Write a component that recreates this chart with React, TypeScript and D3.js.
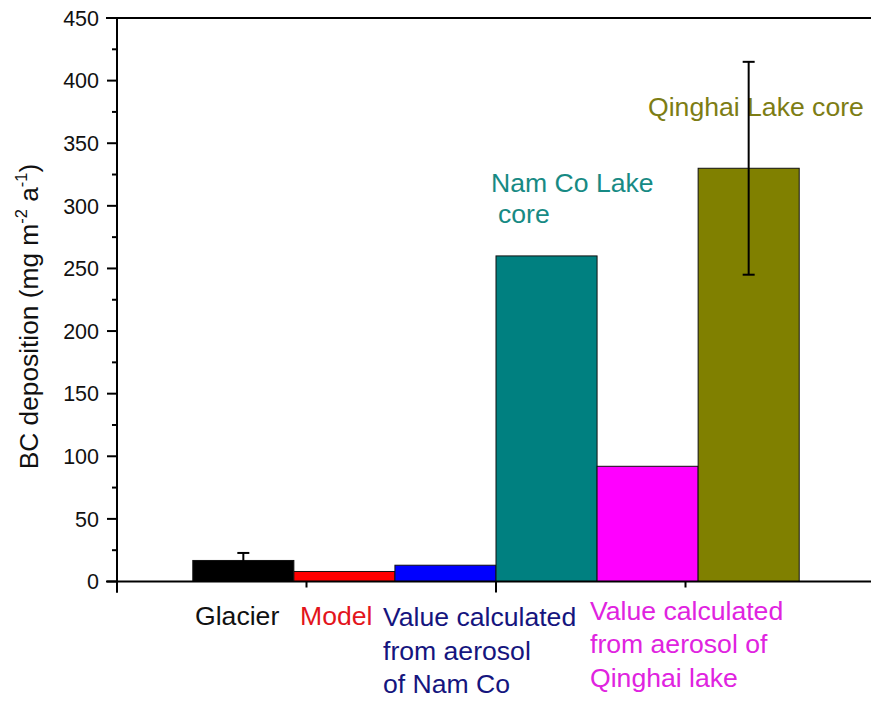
import React from 'react';
import * as d3 from 'd3';

const categories = ['Glacier', 'Model', 'Aerosol Nam Co', 'Nam Co Lake core', 'Aerosol Qinghai', 'Qinghai Lake core'];
const values = [16.8, 8, 13, 260, 92, 330];
const errors = [6, 0, 0, 0, 0, 85];
const barColors = ['#000000', '#ff0000', '#0000ff', '#008080', '#ff00ff', '#808000'];
const yMajorTicks = [0, 50, 100, 150, 200, 250, 300, 350, 400, 450];
const yMinorTicks = [25, 75, 125, 175, 225, 275, 325, 375, 425];
const xMajorTicks = [0, 1, 2];
const xMinorTicks = [0.5, 1.5];

const FONT = '"Liberation Sans", Arial, Helvetica, sans-serif';

export default function App() {
  const W = 871;
  const H = 702;
  const left = 117;
  const top = 18;
  const bottom = 581.5;
  const right = 875;

  const y = d3.scaleLinear().domain([0, 450]).range([bottom, top]);
  const xAxis = d3.scaleLinear().domain([0, 2]).range([left, right]);
  const xb = d3
    .scaleBand<string>()
    .domain(categories)
    .range([xAxis(0.2), xAxis(1.8)])
    .padding(0);

  const fs = 26.6;

  return (
    <svg
      width={W}
      height={H}
      style={{ position: 'absolute', left: 0, top: 0, background: '#fff' }}
      fontFamily={FONT}
    >
      <rect x={0} y={0} width={W} height={H} fill="#fff" />

      {/* bars */}
      {categories.map((c, i) => (
        <rect
          key={c}
          x={xb(c)!}
          y={y(values[i])}
          width={xb.bandwidth()}
          height={y(0) - y(values[i])}
          fill={barColors[i]}
          stroke="#111"
          strokeWidth={1}
        />
      ))}

      {/* annotations */}
      <text x={491} y={191.5} fontSize={fs} fill="#178a84">Nam Co Lake</text>
      <text x={498} y={223} fontSize={fs} fill="#178a84">core</text>
      <text x={648} y={116} fontSize={fs} fill="#7d7d14">Qinghai Lake core</text>

      {/* error bars */}
      {categories.map((c, i) => {
        if (!errors[i]) return null;
        const cx = xb(c)! + xb.bandwidth() / 2;
        const y1 = y(values[i] + errors[i]);
        const y2 = y(values[i] - errors[i]);
        return (
          <g key={'e' + c} stroke="#000" strokeWidth={2}>
            <line x1={cx} x2={cx} y1={y1} y2={y2} />
            <line x1={cx - 6} x2={cx + 6} y1={y1} y2={y1} />
            <line x1={cx - 6} x2={cx + 6} y1={y2} y2={y2} />
          </g>
        );
      })}

      {/* axes */}
      <g stroke="#000" strokeWidth={2}>
        <line x1={left} x2={left} y1={top - 1} y2={bottom + 11} />
        <line x1={left - 11} x2={W} y1={bottom} y2={bottom} />
        <line x1={left - 11} x2={W} y1={top} y2={top} />
        {yMajorTicks.map((t) => (
          <line key={'ym' + t} x1={left - 10} x2={left} y1={y(t)} y2={y(t)} />
        ))}
        {yMinorTicks.map((t) => (
          <line key={'yn' + t} x1={left - 5} x2={left} y1={y(t)} y2={y(t)} />
        ))}
        {xMajorTicks.map((t) => (
          <line key={'xm' + t} x1={xAxis(t)} x2={xAxis(t)} y1={bottom} y2={bottom + 11} />
        ))}
        {xMinorTicks.map((t) => (
          <line key={'xn' + t} x1={xAxis(t)} x2={xAxis(t)} y1={bottom} y2={bottom + 6} />
        ))}
      </g>

      {/* y tick labels */}
      {yMajorTicks.map((t) => (
        <text
          key={'yl' + t}
          x={99}
          y={y(t)}
          dy="0.36em"
          fontSize={21.5}
          textAnchor="end"
          fill="#111"
        >
          {t}
        </text>
      ))}

      {/* y title */}
      <text
        transform="translate(38,316.5) rotate(-90)"
        textAnchor="middle"
        fontSize={26.3}
        fill="#111"
      >
        BC deposition (mg m
        <tspan fontSize={16.5} dy={-11}>-2</tspan>
        <tspan dy={11}> a</tspan>
        <tspan fontSize={16.5} dy={-11}>-1</tspan>
        <tspan dy={11}>)</tspan>
      </text>

      {/* category labels */}
      <text x={195} y={625} fontSize={fs} fill="#111">Glacier</text>
      <text x={300} y={625} fontSize={fs} fill="#e3141c">Model</text>
      <g fontSize={fs} fill="#15157e">
        <text x={383} y={626}>Value calculated</text>
        <text x={383} y={659.5}>from aerosol</text>
        <text x={383} y={693}>of Nam Co</text>
      </g>
      <g fontSize={fs} fill="#e023e0">
        <text x={590} y={619.5}>Value calculated</text>
        <text x={590} y={653}>from aerosol of</text>
        <text x={590} y={687}>Qinghai lake</text>
      </g>
    </svg>
  );
}
